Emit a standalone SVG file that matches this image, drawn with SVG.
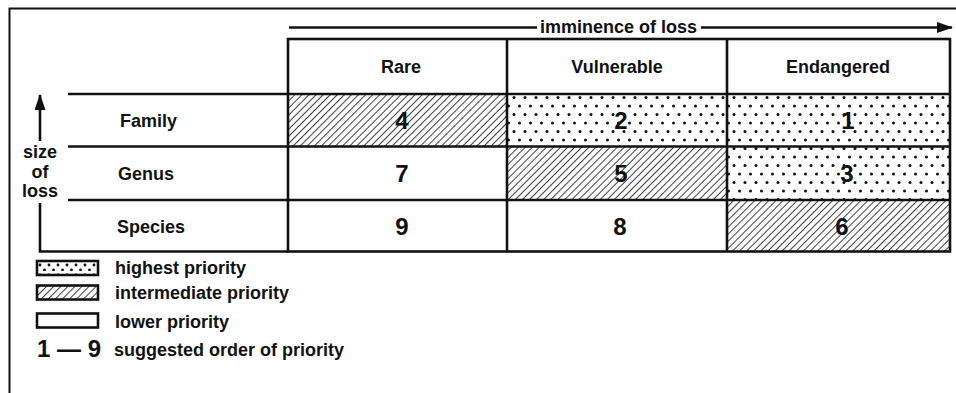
<svg xmlns="http://www.w3.org/2000/svg" width="956" height="393" viewBox="0 0 956 393">
<style>
  .t{font-family:"Liberation Sans",Arial,sans-serif;font-weight:bold;fill:#111;}
  .h{font-size:18px;}
  .n{font-size:24px;text-anchor:middle;}
  .c{text-anchor:middle;}
  .ln{stroke:#111;stroke-width:2.6;fill:none;}
  .box{stroke:#111;stroke-width:2.6;}
  .thin{stroke:#111;stroke-width:2;fill:none;}
</style>
<defs>
  <pattern id="hatch" width="5" height="5" patternUnits="userSpaceOnUse" patternTransform="rotate(45)">
    <rect width="5" height="5" fill="#fff"/>
    <line x1="0" y1="0" x2="0" y2="5" stroke="#111" stroke-width="1.6"/>
  </pattern>
  <pattern id="dots" width="11" height="17" patternUnits="userSpaceOnUse">
    <rect width="11" height="17" fill="#fff"/>
    <circle cx="2.5" cy="4" r="1.5" fill="#111"/>
    <circle cx="8" cy="12.5" r="1.5" fill="#111"/>
  </pattern>
  <pattern id="dots-small" width="9" height="10" patternUnits="userSpaceOnUse" x="37" y="261">
    <rect width="9" height="10" fill="#fff"/>
    <circle cx="3" cy="4" r="1.4" fill="#111"/>
    <circle cx="7.5" cy="9" r="1.4" fill="#111"/>
  </pattern>
  <marker id="ah" markerWidth="16" markerHeight="11" refX="15" refY="5.5" orient="auto" markerUnits="userSpaceOnUse">
    <path d="M0,0 L16,5.5 L0,11 Z" fill="#111"/>
  </marker>
</defs>
<rect width="956" height="393" fill="#fff"/>

<g id="frame">
  <path class="thin" d="M956,8.5 H9.5 V393"/>
</g>

<g id="connectors">
  <line class="ln" x1="289" y1="27.5" x2="537" y2="27.5"/>
  <line class="ln" x1="701" y1="27.5" x2="952" y2="27.5" marker-end="url(#ah)"/>
  <line class="ln" x1="40" y1="141" x2="40" y2="95" marker-end="url(#ah)"/>
  <path class="ln" d="M40,203 V251.5 H288"/>
</g>

<g id="axis-labels">
  <text class="t h" x="540" y="33">imminence of loss</text>
  <text class="t h c" x="40" y="158">size</text>
  <text class="t h c" x="40" y="177.5">of</text>
  <text class="t h c" x="40" y="197">loss</text>
</g>

<g id="header-rare"><rect x="288" y="39" width="219" height="55" fill="#fff"/><text class="t h c" x="401" y="73">Rare</text></g>
<g id="header-vulnerable"><rect x="507" y="39" width="220" height="55" fill="#fff"/><text class="t h c" x="617" y="73">Vulnerable</text></g>
<g id="header-endangered"><rect x="727" y="39" width="223" height="55" fill="#fff"/><text class="t h c" x="838" y="73">Endangered</text></g>

<g id="row-family"><text class="t h" x="120" y="126.5">Family</text></g>
<g id="row-genus"><text class="t h" x="118" y="179.5">Genus</text></g>
<g id="row-species"><text class="t h" x="117" y="232.5">Species</text></g>

<g id="cell-family-rare"><rect x="288" y="94" width="219" height="52.5" fill="url(#hatch)"/><text class="t n" x="402" y="129">4</text></g>
<g id="cell-family-vulnerable"><rect x="507" y="94" width="220" height="52.5" fill="url(#dots)"/><text class="t n" x="621" y="129">2</text></g>
<g id="cell-family-endangered"><rect x="727" y="94" width="223" height="52.5" fill="url(#dots)"/><text class="t n" x="848" y="129">1</text></g>

<g id="cell-genus-rare"><rect x="288" y="146.5" width="219" height="53.5" fill="#fff"/><text class="t n" x="402" y="182">7</text></g>
<g id="cell-genus-vulnerable"><rect x="507" y="146.5" width="220" height="53.5" fill="url(#hatch)"/><text class="t n" x="621" y="182">5</text></g>
<g id="cell-genus-endangered"><rect x="727" y="146.5" width="223" height="53.5" fill="url(#dots)"/><text class="t n" x="847" y="182">3</text></g>

<g id="cell-species-rare"><rect x="288" y="200" width="219" height="51.5" fill="#fff"/><text class="t n" x="402" y="235">9</text></g>
<g id="cell-species-vulnerable"><rect x="507" y="200" width="220" height="51.5" fill="#fff"/><text class="t n" x="620" y="235">8</text></g>
<g id="cell-species-endangered"><rect x="727" y="200" width="223" height="51.5" fill="url(#hatch)"/><text class="t n" x="842" y="235">6</text></g>

<g id="grid">
  <rect class="ln" x="288" y="39" width="662" height="212.5"/>
  <line class="ln" x1="68" y1="94" x2="950" y2="94"/>
  <line class="ln" x1="68" y1="146.5" x2="950" y2="146.5"/>
  <line class="ln" x1="68" y1="200" x2="950" y2="200"/>
  <line class="ln" x1="507" y1="39" x2="507" y2="251.5"/>
  <line class="ln" x1="727" y1="39" x2="727" y2="251.5"/>
</g>

<g id="legend-highest"><rect class="box" x="37" y="261" width="61" height="14" fill="url(#dots-small)"/><text class="t h" x="115" y="274">highest priority</text></g>
<g id="legend-intermediate"><rect class="box" x="37" y="285.5" width="61" height="14" fill="url(#hatch)"/><text class="t h" x="115" y="299">intermediate priority</text></g>
<g id="legend-lower"><rect class="box" x="37" y="313.5" width="61" height="14" fill="#fff"/><text class="t h" x="115" y="328">lower priority</text></g>
<g id="legend-order"><text class="t" x="37" y="357" style="font-size:24px">1 — 9</text><text class="t h" x="114" y="356">suggested order of priority</text></g>
</svg>
